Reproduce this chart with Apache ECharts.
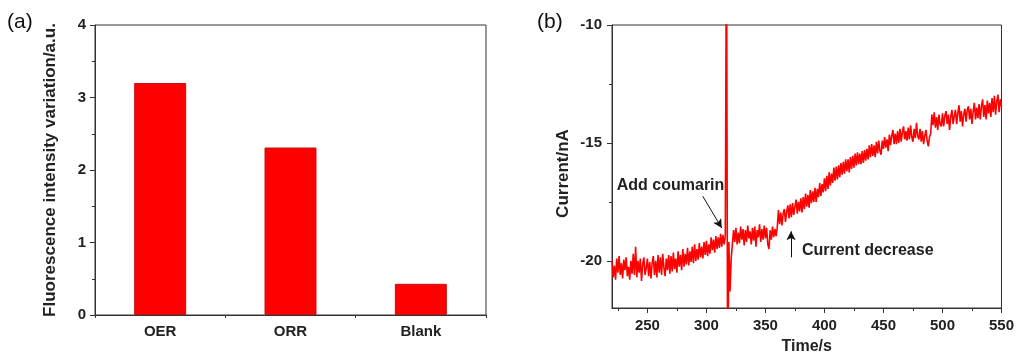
<!DOCTYPE html>
<html>
<head>
<meta charset="utf-8">
<script src="https://cdn.jsdelivr.net/npm/echarts@6/dist/echarts.min.js"></script>
<style>
html,body{margin:0;padding:0;background:#fff;}
#chart{width:1017px;height:360px;}
</style>
</head>
<body>
<div id="chart"></div>
<script>
// ---------- Data ----------
const barCategories = ['OER', 'ORR', 'Blank'];
const barValues = [3.2, 2.31, 0.43];
const leftYTicks = [0, 1, 2, 3, 4];

const timeStart = 220;   // s, first sample
const timeStep = 1;      // s, sampling step
const currentValues = [
  -20.0, -20.7, -20.2, -20.8, -19.9, -20.5, -19.8, -20.6, -20.1, -20.75,
  -19.95, -20.4, -19.85, -20.65, -20.25, -20.8, -20.0, -20.55, -19.7, -20.6,
  -19.4, -20.7, -20.0, -20.5, -19.9, -20.85, -20.15, -19.85, -20.6, -20.3,
  -19.9, -20.65, -20.05, -20.75, -20.1, -19.8, -20.6, -20.0, -20.7, -19.75,
  -20.5, -19.85, -20.6, -19.7, -20.3, -20.65, -19.9, -20.4, -19.75, -20.55,
  -19.8, -20.45, -19.65, -20.35, -19.9, -20.5, -19.6, -20.25, -19.75, -20.4,
  -19.5, -20.25, -19.7, -20.15, -19.45, -20.2, -19.6, -20.05, -19.4, -20.1,
  -19.3, -20.0, -19.5, -19.95, -19.25, -19.85, -19.4, -19.9, -19.2, -19.75,
  -19.15, -19.8, -19.3, -19.7, -19.0, -19.55, -19.1, -19.65, -18.95, -19.5,
  -19.0, -19.45, -18.85, -19.4, -18.9, -19.3, -18.95, -5.0, -26.0, -19.2,
  -21.3, -19.9, -19.3, -18.7, -19.2, -18.6, -19.3, -18.8, -19.25, -18.55,
  -19.1, -18.65, -19.35, -18.7, -19.2, -18.5, -19.05, -18.75, -19.3, -18.6,
  -19.15, -18.55, -19.4, -18.7, -19.0, -18.45, -19.2, -18.65, -19.1, -18.5,
  -19.05, -18.6, -19.3, -19.5, -18.7, -19.1, -18.55, -19.0, -18.65, -18.95,
  -18.6, -17.85, -18.45, -17.95, -18.5, -18.0, -17.8, -18.35, -17.9, -17.65,
  -18.2, -17.6, -18.15, -17.55, -18.05, -17.7, -17.4, -18.0, -17.5, -17.9,
  -17.35, -17.95, -17.3, -17.8, -17.15, -17.7, -17.2, -17.75, -17.0, -17.55,
  -17.05, -17.5, -16.9, -17.5, -16.95, -17.3, -16.7, -17.25, -16.75, -17.1,
  -16.5, -17.05, -16.4, -16.95, -16.25, -16.8, -16.3, -16.7, -16.05, -16.6,
  -16.0, -16.55, -15.95, -16.45, -15.85, -16.35, -15.8, -16.3, -15.7, -16.2,
  -15.7, -16.25, -15.6, -16.1, -15.55, -16.05, -15.45, -15.95, -15.4, -15.9,
  -15.45, -15.9, -15.35, -15.85, -15.3, -15.75, -15.25, -15.7, -15.1, -15.6,
  -15.05, -15.55, -15.1, -15.6, -14.95, -15.45, -14.9, -15.35, -15.5, -14.9,
  -15.25, -14.75, -15.2, -14.85, -15.35, -14.65, -15.1, -14.7, -14.45, -15.05,
  -14.6, -15.05, -14.5, -15.0, -14.4, -14.95, -14.55, -14.3, -14.85, -14.5,
  -14.9, -14.35, -14.85, -14.25, -14.75, -14.95, -14.4, -14.8, -14.15, -14.7,
  -14.85, -14.4, -14.95, -14.5, -15.05, -14.7, -14.45, -14.9, -15.15, -14.75,
  -14.6, -13.8, -14.25, -13.7, -14.35, -13.9, -14.45, -13.8, -14.2, -14.3,
  -13.75, -14.3, -13.85, -13.65, -14.2, -13.8, -14.45, -13.9, -13.6, -14.2,
  -13.85, -13.6, -14.2, -13.75, -13.4, -14.1, -13.65, -14.3, -13.8, -13.55,
  -14.1, -13.6, -13.45, -14.0, -13.55, -14.2, -13.65, -13.3, -14.0, -13.5,
  -13.95, -13.35, -14.0, -13.45, -13.15, -13.9, -13.4, -14.0, -13.2, -13.75,
  -13.3, -13.9, -13.1, -13.7, -13.0, -13.8, -13.25, -12.95, -13.7, -13.15, -13.45
];
const rightXTicks = [250, 300, 350, 400, 450, 500, 550];
const rightXMinorTicks = [225, 275, 325, 375, 425, 475, 525];
const rightYTicks = [-20, -15, -10];
const rightYMinorTicks = [-17.5, -12.5];

// annotations (data coordinates)
const addCoumarinText = { label: 'Add coumarin', at: [269.6, -16.8] };
const addCoumarinArrow = { from: [296.9, -17.26], to: [313.0, -18.61] };
const decreaseText = { label: 'Current decrease', at: [380.5, -19.58] };
const decreaseArrow = { from: [371.7, -19.85], to: [371.7, -18.75] };

// ---------- Chart ----------
const FONT = "'Liberation Sans', Arial, sans-serif";
const AX = '#333';
const lineData = currentValues.map((v, i) => [timeStart + i * timeStep, v]);

const tickLabel = { fontFamily: FONT, fontSize: 15, fontWeight: 'bold', color: '#222' };
const nameStyle = { fontFamily: FONT, fontSize: 17, fontWeight: 'bold', color: '#222' };

const chart = echarts.init(document.getElementById('chart'), null, { renderer: 'canvas' });
chart.setOption({
  animation: false,
  backgroundColor: '#fff',
  graphic: [
    { type: 'text', left: 7, top: 12, style: { text: '(a)', font: "21px " + FONT, fill: '#111' } },
    { type: 'text', left: 537, top: 12, style: { text: '(b)', font: "21px " + FONT, fill: '#111' } }
  ],
  grid: [
    { left: 95, top: 25, width: 391, height: 290, show: true, borderColor: AX, borderWidth: 1, backgroundColor: 'transparent' },
    { left: 612, top: 25, width: 391, height: 288, show: true, borderColor: AX, borderWidth: 1, backgroundColor: 'transparent' }
  ],
  xAxis: [
    {
      gridIndex: 0, type: 'category', data: barCategories, boundaryGap: true,
      axisLine: { lineStyle: { color: AX, width: 1 } },
      axisTick: { alignWithLabel: true, length: 5, lineStyle: { color: AX } },
      axisLabel: Object.assign({ margin: 9 }, tickLabel),
      splitLine: { show: false }
    },
    {
      gridIndex: 0, type: 'category', data: barCategories, boundaryGap: true, position: 'bottom',
      axisLine: { show: false },
      axisTick: { show: true, length: 3, lineStyle: { color: AX } },
      axisLabel: { show: false },
      splitLine: { show: false }
    },
    {
      gridIndex: 1, type: 'value', min: 220, max: 550,
      axisLine: { lineStyle: { color: AX, width: 1 } },
      axisTick: { show: true, length: 5, customValues: rightXTicks, lineStyle: { color: AX } },
      axisLabel: Object.assign({ margin: 10, customValues: rightXTicks }, tickLabel),
      splitLine: { show: false },
      name: 'Time/s', nameLocation: 'middle', nameGap: 31, nameTextStyle: Object.assign({}, nameStyle, { fontSize: 16 })
    },
    {
      gridIndex: 1, type: 'value', min: 220, max: 550, position: 'bottom',
      axisLine: { show: false },
      axisTick: { show: true, length: 3, customValues: rightXMinorTicks, lineStyle: { color: AX } },
      axisLabel: { show: false },
      splitLine: { show: false }
    }
  ],
  yAxis: [
    {
      gridIndex: 0, type: 'value', min: leftYTicks[0], max: leftYTicks[leftYTicks.length - 1], interval: 1,
      axisLine: { show: true, lineStyle: { color: AX, width: 1 } },
      axisTick: { show: true, length: 5, lineStyle: { color: AX } },
      minorTick: { show: true, splitNumber: 2, length: 3, lineStyle: { color: AX } },
      axisLabel: Object.assign({ margin: 9 }, tickLabel),
      splitLine: { show: false },
      name: 'Fluorescence intensity variation/a.u.', nameLocation: 'middle', nameGap: 36, nameRotate: 90,
      nameTextStyle: nameStyle
    },
    {
      gridIndex: 1, type: 'value', min: -22, max: -10,
      axisLine: { show: true, lineStyle: { color: AX, width: 1 } },
      axisTick: { show: true, length: 5, customValues: rightYTicks, lineStyle: { color: AX } },
      axisLabel: Object.assign({ margin: 10, customValues: rightYTicks }, tickLabel),
      splitLine: { show: false },
      name: 'Current/nA', nameLocation: 'middle', nameGap: 40, nameRotate: 90,
      nameTextStyle: Object.assign({}, nameStyle, { padding: [0, 14, 0, 0] })
    },
    {
      gridIndex: 1, type: 'value', min: -22, max: -10, position: 'left',
      axisLine: { show: false },
      axisTick: { show: true, length: 3, customValues: rightYMinorTicks, lineStyle: { color: AX } },
      axisLabel: { show: false },
      splitLine: { show: false }
    }
  ],
  series: [
    {
      type: 'bar', xAxisIndex: 0, yAxisIndex: 0, data: barValues, barWidth: 52,
      itemStyle: { color: '#ff0000', borderColor: '#c81010', borderWidth: 1 }
    },
    {
      type: 'line', xAxisIndex: 2, yAxisIndex: 1, data: lineData,
      showSymbol: false, symbol: 'none', clip: true,
      lineStyle: { color: '#ff0000', width: 1.6 },
      markLine: {
        silent: true, animation: false,
        symbol: ['none', 'arrow'], symbolSize: [7, 9],
        label: { show: false },
        lineStyle: { color: '#111', width: 1, type: 'solid' },
        data: [
          [{ coord: addCoumarinArrow.from }, { coord: addCoumarinArrow.to }],
          [{ coord: decreaseArrow.from }, { coord: decreaseArrow.to }]
        ]
      },
      markPoint: {
        silent: true, animation: false,
        symbol: 'circle', symbolSize: 1,
        itemStyle: { color: 'rgba(0,0,0,0)' },
        data: [
          { coord: addCoumarinText.at, label: { show: true, position: 'inside', formatter: addCoumarinText.label, fontFamily: FONT, fontSize: 16, fontWeight: 'bold', color: '#222' } },
          { coord: decreaseText.at, label: { show: true, position: 'right', distance: 0, formatter: decreaseText.label, fontFamily: FONT, fontSize: 16, fontWeight: 'bold', color: '#222' } }
        ]
      }
    }
  ]
});
</script>
</body>
</html>
